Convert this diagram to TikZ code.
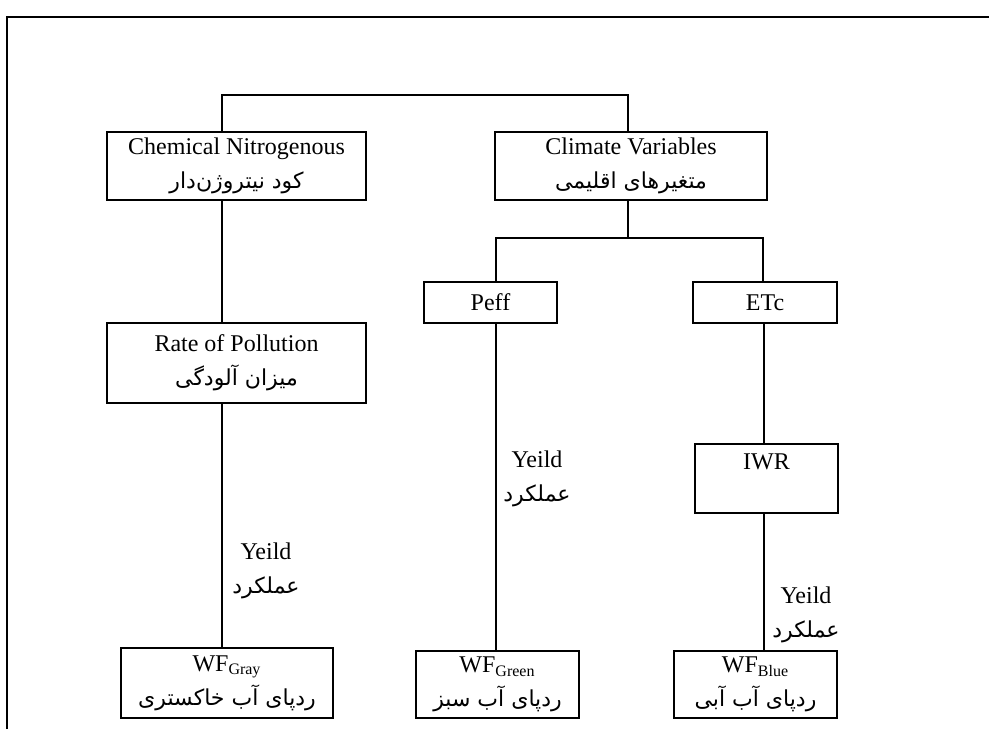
\documentclass[tikz,border=0pt]{standalone}
\usepackage{fontspec}
\setmainfont{Liberation Serif}
\newfontfamily\persfont[Script=Arabic]{DejaVu Sans}
\TeXXeTstate=1
\usepackage{tikz}
\usetikzlibrary{positioning}
\newcommand{\prs}[1]{{\persfont\fontsize{11}{17}\selectfont\beginR #1\endR}}
\tikzset{
  box/.style={draw, line width=1pt, inner sep=0pt, align=center,
    font=\fontsize{12}{17}\selectfont},
  link/.style={line width=1pt},
  lbl/.style={align=center, inner sep=0pt, font=\fontsize{12}{17}\selectfont}
}

\begin{document}
\begin{tikzpicture}[x=0.5pt,y=-0.5pt]
\useasboundingbox (0,0) rectangle (989,729);

% Page frame
\draw[link] (7,729) |- (989,17);

% Top level
\node[box, minimum width=129.5pt, minimum height=34pt] (chem) at (236.5,166)
  {Chemical Nitrogenous\\ \prs{کود نیتروژن‌دار}};
\node[box, minimum width=136pt, minimum height=34pt] (clim) at (631,166)
  {Climate Variables\\ \prs{متغیرهای اقلیمی}};

% Second level
\node[box, minimum width=129.5pt, minimum height=40pt] (poll) at (236.5,363)
  {Rate of Pollution\\ \prs{میزان آلودگی}};
\node[box, minimum width=66.5pt, minimum height=20.5pt] (peff) at (490.5,302.5) {Peff};
\node[box, minimum width=72pt, minimum height=20.5pt] (etc) at (765,302.5) {ETc};
\node[box, minimum width=71.5pt, minimum height=34.5pt] (iwr) at (766.5,478.5)
  {IWR\\ \mbox{}};

% Water footprints
\node[box, minimum width=106pt, minimum height=35pt] (gray) at (227,683)
  {WF\textsubscript{Gray}\\ \prs{ردپای آب خاکستری}};
\node[box, minimum width=81.5pt, minimum height=33.5pt] (green) at (497.5,684.5)
  {WF\textsubscript{Green}\\ \prs{ردپای آب سبز}};
\node[box, minimum width=81.5pt, minimum height=33.5pt] (blue) at (755.5,684.5)
  {WF\textsubscript{Blue}\\ \prs{ردپای آب آبی}};

% Yield labels
\node[lbl] (ygray) at (266,571) {Yeild\\ \prs{عملکرد}};
\node[lbl] (ygreen) at (537,479) {Yeild\\ \prs{عملکرد}};
\node[lbl] (yblue) at (806,615) {Yeild\\ \prs{عملکرد}};

% Connectors
\coordinate (topbar) at (425,95);
\coordinate (split) at (628,238);
\draw[link] ([xshift=-7.25pt]chem.north) |- (topbar) -| ([xshift=-1.5pt]clim.north);
\draw[link] ([xshift=-7.25pt]chem.south) -- ([xshift=-7.25pt]poll.north);
\draw[link] ([xshift=-7.25pt]poll.south) -- ([xshift=-2.5pt]gray.north);
\draw[link] ([xshift=-1.5pt]clim.south) -- (split);
\draw[link] ([xshift=2.75pt]peff.north) |- (split) -| ([xshift=-1pt]etc.north);
\draw[link] ([xshift=2.75pt]peff.south) -- ([xshift=-0.75pt]green.north);
\draw[link] ([xshift=-0.5pt]etc.south) -- ([xshift=-1.25pt]iwr.north);
\draw[link] ([xshift=-1.25pt]iwr.south) -- ([xshift=4.25pt]blue.north);

\end{tikzpicture}
\end{document}
